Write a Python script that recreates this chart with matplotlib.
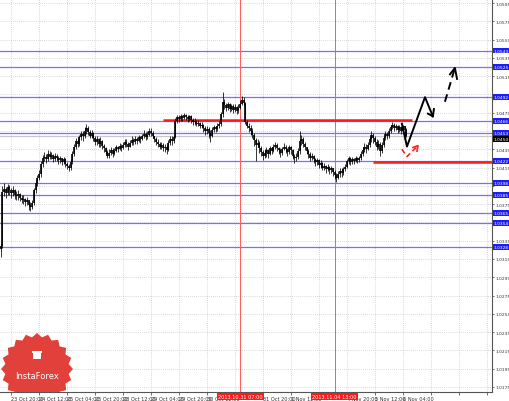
import numpy as np
import matplotlib.pyplot as plt
import matplotlib.transforms as mtransforms
from matplotlib.patches import Polygon, Rectangle

# H1 candles, bar index counted from the 23 Oct 04:00 label (16 bars per label)
first_bar = 9
first_open = 1.0322

closes = [1.0326, 1.0329, 1.0388, 1.0392, 1.0387, 1.0394, 1.0390, 1.0387, 1.0391, 1.0385,
          1.0384, 1.0386, 1.0382, 1.0380, 1.0381, 1.0377, 1.0379, 1.0374, 1.0372, 1.0376,
          1.0390, 1.0398, 1.0404, 1.0408, 1.0419, 1.0425, 1.0427, 1.0424, 1.0430, 1.0427,
          1.0429, 1.0424, 1.0428, 1.0426, 1.0423, 1.0425, 1.0421, 1.0424, 1.0419, 1.0417,
          1.0414, 1.0421, 1.0430,
          1.0438, 1.0444, 1.0441, 1.0448, 1.0452, 1.0449, 1.0455, 1.0458, 1.0454, 1.0450,
          1.0453, 1.0447, 1.0443, 1.0446, 1.0441, 1.0444, 1.0439, 1.0436,
          1.0432, 1.0428, 1.0431, 1.0434, 1.0430, 1.0433, 1.0437, 1.0435, 1.0439, 1.0436,
          1.0440, 1.0443, 1.0441, 1.0438, 1.0442, 1.0445, 1.0443, 1.0446, 1.0444, 1.0448,
          1.0446, 1.0449, 1.0452, 1.0448, 1.0451,
          1.0455, 1.0453, 1.0449, 1.0446, 1.0443, 1.0441, 1.0438, 1.0440, 1.0436, 1.0437,
          1.0434, 1.0442, 1.0446, 1.0444, 1.0448,
          1.0466, 1.0470, 1.0468, 1.0471, 1.0469, 1.0472, 1.0470, 1.0468, 1.0471, 1.0467,
          1.0465, 1.0466, 1.0463, 1.0464, 1.0461, 1.0462, 1.0458, 1.0455, 1.0457, 1.0453,
          1.0450, 1.0456, 1.0459, 1.0457, 1.0461, 1.0463,
          1.0474, 1.0487, 1.0483, 1.0480, 1.0484, 1.0479, 1.0482, 1.0478, 1.0481, 1.0477,
          1.0480, 1.0485, 1.0489, 1.0486,
          1.0465, 1.0461, 1.0458, 1.0455, 1.0451, 1.0445, 1.0440, 1.0442, 1.0436, 1.0432,
          1.0428, 1.0431,
          1.0434, 1.0430, 1.0436, 1.0433, 1.0437, 1.0440, 1.0436, 1.0434, 1.0431, 1.0435,
          1.0438, 1.0435, 1.0432, 1.0437, 1.0434, 1.0428, 1.0425, 1.0427,
          1.0433, 1.0444, 1.0446, 1.0441, 1.0437, 1.0433, 1.0430, 1.0426, 1.0428, 1.0424,
          1.0421, 1.0423,
          1.0418, 1.0420, 1.0415, 1.0417, 1.0413, 1.0416, 1.0412, 1.0414, 1.0410, 1.0407,
          1.0404, 1.0408, 1.0411, 1.0409, 1.0413, 1.0416,
          1.0422, 1.0425, 1.0421, 1.0424, 1.0422, 1.0426, 1.0423, 1.0425, 1.0430, 1.0434,
          1.0438, 1.0435, 1.0440, 1.0446, 1.0451, 1.0447,
          1.0443, 1.0438, 1.0441, 1.0433, 1.0440, 1.0447, 1.0452, 1.0449, 1.0455, 1.0459,
          1.0462, 1.0458, 1.0461, 1.0456, 1.0459, 1.0455, 1.0460, 1.0456, 1.0450]

highs = [1.0331, 1.0333, 1.0395, 1.0398, 1.0394, 1.0397, 1.0396, 1.0393, 1.0395, 1.0392,
         1.0389, 1.0390, 1.0387, 1.0385, 1.0385, 1.0382, 1.0383, 1.0380, 1.0377, 1.0380,
         1.0393, 1.0401, 1.0407, 1.0412, 1.0422, 1.0429, 1.0432, 1.0430, 1.0434, 1.0433,
         1.0432, 1.0430, 1.0431, 1.0430, 1.0428, 1.0428, 1.0426, 1.0427, 1.0425, 1.0421,
         1.0419, 1.0424, 1.0433,
         1.0441, 1.0447, 1.0446, 1.0451, 1.0455, 1.0455, 1.0459, 1.0463, 1.0460, 1.0456,
         1.0456, 1.0454, 1.0449, 1.0449, 1.0447, 1.0448, 1.0445, 1.0441,
         1.0438, 1.0434, 1.0435, 1.0437, 1.0436, 1.0436, 1.0440, 1.0439, 1.0442, 1.0441,
         1.0443, 1.0446, 1.0446, 1.0443, 1.0445, 1.0449, 1.0447, 1.0449, 1.0448, 1.0451,
         1.0450, 1.0452, 1.0456, 1.0454, 1.0455,
         1.0458, 1.0458, 1.0455, 1.0450, 1.0448, 1.0446, 1.0443, 1.0443, 1.0442, 1.0441,
         1.0440, 1.0445, 1.0450, 1.0449, 1.0451,
         1.0469, 1.0473, 1.0473, 1.0474, 1.0473, 1.0475, 1.0474, 1.0472, 1.0473, 1.0472,
         1.0469, 1.0469, 1.0467, 1.0467, 1.0465, 1.0465, 1.0463, 1.0460, 1.0460, 1.0459,
         1.0456, 1.0459, 1.0462, 1.0461, 1.0464, 1.0466,
         1.0476, 1.0498, 1.0490, 1.0486, 1.0487, 1.0486, 1.0485, 1.0484, 1.0484, 1.0482,
         1.0484, 1.0489, 1.0493, 1.0492,
         1.0487, 1.0467, 1.0464, 1.0462, 1.0458, 1.0453, 1.0447, 1.0446, 1.0444, 1.0439,
         1.0434, 1.0435,
         1.0437, 1.0435, 1.0439, 1.0437, 1.0441, 1.0443, 1.0442, 1.0438, 1.0436, 1.0438,
         1.0442, 1.0440, 1.0436, 1.0440, 1.0439, 1.0435, 1.0430, 1.0431,
         1.0436, 1.0455, 1.0451, 1.0448, 1.0443, 1.0438, 1.0435, 1.0432, 1.0431, 1.0429,
         1.0426, 1.0426,
         1.0424, 1.0423, 1.0421, 1.0420, 1.0418, 1.0419, 1.0417, 1.0417, 1.0415, 1.0412,
         1.0409, 1.0411, 1.0414, 1.0414, 1.0416, 1.0419,
         1.0424, 1.0428, 1.0427, 1.0427, 1.0426, 1.0428, 1.0427, 1.0428, 1.0433, 1.0437,
         1.0442, 1.0441, 1.0443, 1.0450, 1.0455, 1.0453,
         1.0449, 1.0446, 1.0445, 1.0443, 1.0443, 1.0450, 1.0455, 1.0454, 1.0458, 1.0462,
         1.0465, 1.0464, 1.0463, 1.0462, 1.0462, 1.0460, 1.0462, 1.0461, 1.0458]

lows = [1.0318, 1.0317, 1.0327, 1.0384, 1.0382, 1.0385, 1.0385, 1.0382, 1.0384, 1.0381,
        1.0379, 1.0380, 1.0378, 1.0376, 1.0375, 1.0373, 1.0374, 1.0369, 1.0367, 1.0370,
        1.0374, 1.0387, 1.0395, 1.0401, 1.0405, 1.0416, 1.0422, 1.0420, 1.0422, 1.0424,
        1.0424, 1.0421, 1.0422, 1.0422, 1.0419, 1.0420, 1.0418, 1.0419, 1.0416, 1.0413,
        1.0411, 1.0412, 1.0419,
        1.0428, 1.0435, 1.0437, 1.0439, 1.0445, 1.0444, 1.0447, 1.0452, 1.0451, 1.0447,
        1.0447, 1.0444, 1.0440, 1.0440, 1.0438, 1.0438, 1.0435, 1.0432,
        1.0429, 1.0425, 1.0426, 1.0429, 1.0427, 1.0429, 1.0432, 1.0432, 1.0434, 1.0433,
        1.0435, 1.0438, 1.0438, 1.0434, 1.0437, 1.0440, 1.0440, 1.0441, 1.0441, 1.0443,
        1.0442, 1.0445, 1.0447, 1.0445, 1.0446,
        1.0449, 1.0450, 1.0447, 1.0443, 1.0440, 1.0438, 1.0435, 1.0435, 1.0433, 1.0432,
        1.0430, 1.0433, 1.0440, 1.0440, 1.0442,
        1.0447, 1.0464, 1.0465, 1.0466, 1.0466, 1.0468, 1.0467, 1.0465, 1.0466, 1.0464,
        1.0462, 1.0462, 1.0460, 1.0460, 1.0458, 1.0458, 1.0454, 1.0451, 1.0452, 1.0447,
        1.0443, 1.0448, 1.0454, 1.0454, 1.0455, 1.0458,
        1.0461, 1.0470, 1.0479, 1.0477, 1.0478, 1.0476, 1.0477, 1.0475, 1.0476, 1.0474,
        1.0475, 1.0479, 1.0483, 1.0482,
        1.0463, 1.0458, 1.0454, 1.0451, 1.0447, 1.0439, 1.0422, 1.0437, 1.0431, 1.0428,
        1.0423, 1.0425,
        1.0427, 1.0426, 1.0429, 1.0430, 1.0432, 1.0435, 1.0433, 1.0430, 1.0427, 1.0429,
        1.0434, 1.0431, 1.0428, 1.0430, 1.0430, 1.0424, 1.0420, 1.0422,
        1.0424, 1.0430, 1.0440, 1.0438, 1.0434, 1.0430, 1.0426, 1.0422, 1.0423, 1.0420,
        1.0417, 1.0418,
        1.0415, 1.0415, 1.0412, 1.0412, 1.0409, 1.0411, 1.0408, 1.0409, 1.0406, 1.0402,
        1.0399, 1.0402, 1.0405, 1.0405, 1.0407, 1.0411,
        1.0414, 1.0419, 1.0418, 1.0419, 1.0419, 1.0421, 1.0420, 1.0421, 1.0423, 1.0428,
        1.0432, 1.0431, 1.0434, 1.0438, 1.0443, 1.0442,
        1.0440, 1.0434, 1.0435, 1.0428, 1.0431, 1.0438, 1.0445, 1.0446, 1.0447, 1.0453,
        1.0457, 1.0455, 1.0456, 1.0453, 1.0454, 1.0452, 1.0453, 1.0448, 1.0448]

# time labels, one every 16 bars
tick_bars = [16, 32, 48, 64, 80, 96, 112, 128, 144, 160, 176, 192, 208, 224, 240, 256, 272, 288]
tick_text = ['23 Oct 20:00', '24 Oct 12:00', '25 Oct 04:00', '25 Oct 20:00', '28 Oct 12:00',
             '29 Oct 04:00', '29 Oct 20:00', '30 Oct 12:00', '', '31 Oct 20:00',
             '1 Nov 12:00', '', '4 Nov 20:00', '5 Nov 12:00', '6 Nov 04:00', '', '', '']

# red vertical markers
vline_bars = [147, 201]
vline_text = ['2013.10.31 07:00', '2013.11.04 13:00']

# blue horizontal levels
levels = [1.0543, 1.0525, 1.0492, 1.0466, 1.0453, 1.0422, 1.0398, 1.0385, 1.0365, 1.0354, 1.0328]
level_text = ['1.0543', '1.0525', '1.0492', '1.0466', '1.0453', '1.0422', '1.0398', '1.0385',
              '1.0365', '1.0354', '1.0328']

# red support / resistance segments
red_levels = [1.0467, 1.0421]
red_start = [103, 223]
red_end = [245, 292]

# forecast arrows (bar, price)
fc_x = [239.4, 242.3, 252.6, 257.1]
fc_y = [1.0463, 1.0438, 1.0492, 1.0471]
fc_head_x = [254.3, 257.1, 257.7]
fc_head_y = [1.0474, 1.0471, 1.0479]
fc2_x = [264.0, 269.7]
fc2_y = [1.0487, 1.0524]
fc2_head_x = [266.9, 269.7, 270.9]
fc2_head_y = [1.0517, 1.0524, 1.0512]
alt_x = [239.4, 242.3, 248.6]
alt_y = [1.0435, 1.0427, 1.0439]
alt_head_x = [245.7, 248.6, 248.0]
alt_head_y = [1.0437, 1.0439, 1.0433]

fig = plt.figure(figsize=(5.1, 4.02), dpi=100)
ax = fig.add_axes([0, 9 / 402, 492 / 510, 393 / 402])
ax.set_xlim(9.7, 290.9)
ax.set_ylim(1.01695, 1.05994)

x = first_bar + np.arange(len(closes))
c = np.array(closes)
o = np.r_[first_open, c[:-1]]
h = np.maximum(np.array(highs), np.maximum(o, c))
l = np.minimum(np.array(lows), np.minimum(o, c))

# grid; price labels hidden under the level boxes are left blank
yt = np.round(np.arange(1.0175, 1.0596, 0.002), 4)
covered = list(levels) + [c[-1]]
ylabels = []
for v in yt:
    if min(abs(v - lv) for lv in covered) < 0.0004:
        ylabels.append('')
    else:
        ylabels.append('%.4f' % v)
ax.set_yticks(yt)
ax.set_yticklabels(ylabels)
ax.set_xticks(tick_bars)
ax.set_xticklabels(tick_text, ha='left')
ax.grid(True, linestyle=(0, (1, 2)), color='#b5b5b5', lw=0.5)
ax.set_axisbelow(True)

for lev in levels:
    ax.axhline(lev, color='#7272ff', lw=0.9, zorder=1)
ax.axhline(c[-1], color='#c8c8c8', lw=0.9, zorder=1)
for b in vline_bars:
    ax.axvline(b, color='#ff5a5a', lw=0.7, zorder=1)
for lev, a, b in zip(red_levels, red_start, red_end):
    ax.plot([a, b], [lev, lev], color='#ff1a1a', lw=1.8, zorder=2, solid_capstyle='butt')

ax.vlines(x, l, h, color='black', lw=0.55, zorder=3)
ax.vlines(x, np.minimum(o, c), np.maximum(o, c), color='black', lw=1.2, zorder=3)

ax.plot(fc_x, fc_y, color='black', lw=1.4, zorder=4)
ax.plot(fc_head_x, fc_head_y, color='black', lw=1.4, zorder=4)
ax.plot(fc2_x, fc2_y, color='black', lw=1.4, ls=(0, (4, 2.5)), zorder=4)
ax.plot(fc2_head_x, fc2_head_y, color='black', lw=1.4, zorder=4)
ax.plot(alt_x, alt_y, color='#ff2020', lw=1.2, ls=(0, (3, 2)), zorder=4)
ax.plot(alt_head_x, alt_head_y, color='#ff2020', lw=1.2, zorder=4)

# axis look
ax.yaxis.tick_right()
ax.tick_params(axis='y', labelsize=3.2, length=1.5, width=0.5, pad=1, colors='#333333')
ax.tick_params(axis='x', labelsize=3.6, length=2, width=0.5, pad=1, colors='#333333')
ax.spines['top'].set_visible(False)
ax.spines['left'].set_visible(False)
ax.spines['right'].set_color('#555555')
ax.spines['bottom'].set_color('#555555')
ax.spines['right'].set_linewidth(0.8)
ax.spines['bottom'].set_linewidth(0.8)

ytrans = mtransforms.blended_transform_factory(ax.transAxes, ax.transData)
for lev, txt in zip(levels, level_text):
    ax.text(1.004, lev, txt, transform=ytrans, fontsize=3.2, color='white', va='center', ha='left',
            bbox=dict(boxstyle='square,pad=0.2', fc='#1c1cff', ec='none'), clip_on=False, zorder=6)
ax.text(1.004, c[-1] - 0.00035, '%.4f' % c[-1], transform=ytrans, fontsize=3.2, color='white',
        va='center', ha='left', bbox=dict(boxstyle='square,pad=0.2', fc='black', ec='none'),
        clip_on=False, zorder=6)

xtrans = mtransforms.blended_transform_factory(ax.transData, ax.transAxes)
for b, txt in zip(vline_bars, vline_text):
    ax.text(b, -0.0115, txt, transform=xtrans, fontsize=3.6, color='white', va='center', ha='center',
            bbox=dict(boxstyle='square,pad=0.25', fc='#ff1a1a', ec='none'), clip_on=False, zorder=6)

# InstaForex seal, bottom left
cx, cy, r = 37, 370, 36
ang = np.linspace(0, 2 * np.pi, 41)[:-1]
rad = np.where(np.arange(40) % 2 == 0, r, r - 4)
sx = (cx + rad * np.cos(ang)) / 100
sy = (402 - (cy + rad * np.sin(ang))) / 100
ax.add_patch(Polygon(np.c_[sx, sy], closed=True, transform=fig.dpi_scale_trans,
                     fc='#e2403a', ec='none', zorder=5))
ax.add_patch(Rectangle((33 / 100, (402 - 360) / 100), 0.08, 0.06, transform=fig.dpi_scale_trans,
                       fc='white', ec='none', zorder=6))
ax.add_patch(Rectangle((32 / 100, (402 - 354) / 100), 0.10, 0.025, transform=fig.dpi_scale_trans,
                       fc='white', ec='none', zorder=6))
fig.text(37 / 510, 1 - 377 / 402, 'InstaForex', color='white', fontsize=6, ha='center', va='center')

fig.savefig('out.png', dpi=100)
